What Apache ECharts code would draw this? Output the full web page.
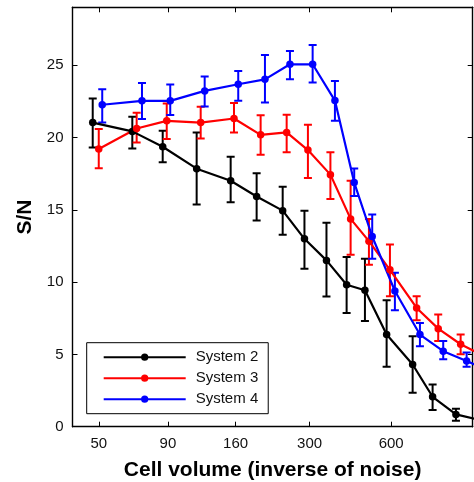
<!DOCTYPE html>
<html><head><meta charset="utf-8">
<script src="https://cdn.jsdelivr.net/npm/echarts@6/dist/echarts.min.js"></script>
<style>html,body{margin:0;padding:0;background:#fff}#c{width:474px;height:482px}</style>
</head><body><div id="c"></div>
<script>
// ---- data ----
const xTickLabels = [50, 90, 160, 300, 600];
const yTicks = [0, 5, 10, 15, 20, 25];
const seriesNames = ['System 2', 'System 3', 'System 4'];

const xSys2  = [47.5, 66.5, 86.1, 114.9, 153.4, 191.3, 238.7, 287.2, 346.3, 411.0, 480.2, 577.4, 720.3, 853.5, 1040.7, 1271];
const ySys2  = [21.03, 20.42, 19.36, 17.84, 17.01, 15.92, 14.94, 12.99, 11.50, 9.82, 9.43, 6.37, 4.30, 2.07, 0.85, 0.46];
const loSys2 = [19.31, 19.24, 18.28, 15.36, 15.52, 14.25, 13.27, 10.92, 9.00, 7.86, 7.31, 4.14, 2.35, 1.15, 0.42, null];
const hiSys2 = [22.69, 21.43, 20.46, 20.35, 18.67, 17.53, 16.60, 14.94, 14.10, 11.73, 11.61, 8.74, 6.26, 2.92, 1.24, null];

const xSys3  = [50.0, 69.0, 89.1, 118.9, 157.8, 197.9, 246.9, 295.8, 358.1, 425.2, 496.8, 593.9, 745.2, 895.2, 1083.1, 1315];
const ySys3  = [19.20, 20.62, 21.15, 21.03, 21.31, 20.18, 20.35, 19.13, 17.43, 14.37, 12.83, 10.85, 8.21, 6.78, 5.70, 4.90];
const loSys3 = [17.87, 19.66, 19.89, 19.93, 20.35, 18.81, 18.97, 17.20, 15.75, 11.89, 11.20, 9.02, 7.36, 5.93, 5.01, null];
const hiSys3 = [20.58, 21.70, 22.35, 22.12, 22.39, 21.54, 21.57, 20.88, 18.97, 17.01, 14.37, 12.60, 9.02, 7.75, 6.37, null];

const xSys4  = [51.5, 72.2, 91.8, 123.0, 163.6, 205.3, 253.9, 307.9, 372.1, 438.4, 510.9, 619.5, 766.3, 934.1, 1139.6, 1389];
const ySys4  = [22.26, 22.53, 22.53, 23.22, 23.68, 24.02, 25.06, 25.06, 22.55, 16.88, 13.15, 9.38, 6.37, 5.22, 4.55, 3.80];
const loSys4 = [21.03, 21.27, 21.56, 22.14, 22.53, 22.41, 24.02, 23.80, 21.15, 15.95, 11.61, 8.05, 5.57, 4.67, 4.14, null];
const hiSys4 = [23.34, 23.77, 23.66, 24.21, 24.60, 25.70, 25.98, 26.39, 23.91, 17.86, 14.67, 10.65, 7.17, 5.93, 5.13, null];

const xMin = 40, xMax = 1200, yMin = 0, yMax = 29;

// ---- chart ----
const L = Math.log10;
const FONT = 'Liberation Sans, Arial, Helvetica, sans-serif';
function pts(xs, ys) { return xs.map((x, i) => [L(x), ys[i]]); }
function errs(xs, lo, hi) { return xs.map((x, i) => [L(x), lo[i] == null ? NaN : lo[i], hi[i] == null ? NaN : hi[i]]); }

function errSeries(id, color, xs, lo, hi) {
  return {
    type: 'custom', name: id, silent: true, clip: true, animation: false,
    data: errs(xs, lo, hi),
    encode: { x: 0, y: [1, 2] },
    renderItem: function (params, api) {
      const l = api.value(1), h = api.value(2);
      if (l == null || h == null || isNaN(l) || isNaN(h)) return null;
      const a = api.coord([api.value(0), l]);
      const b = api.coord([api.value(0), h]);
      const w = 4;
      const st = { stroke: color, lineWidth: 2 };
      return {
        type: 'group', children: [
          { type: 'line', shape: { x1: a[0], y1: a[1], x2: b[0], y2: b[1] }, style: st },
          { type: 'line', shape: { x1: a[0] - w, y1: a[1], x2: a[0] + w, y2: a[1] }, style: st },
          { type: 'line', shape: { x1: b[0] - w, y1: b[1], x2: b[0] + w, y2: b[1] }, style: st }
        ]
      };
    }
  };
}
function lineSeries(name, color, xs, ys) {
  return {
    type: 'line', name: name, data: pts(xs, ys), symbol: 'circle', symbolSize: 7.5,
    showAllSymbol: true, clip: true, animation: false, silent: true,
    lineStyle: { color: color, width: 2.2 }, itemStyle: { color: color },
    emphasis: { disabled: true }
  };
}

const xTickVals = xTickLabels.map(L);
const axisLineStyle = { lineStyle: { color: '#000', width: 1.4 } };
const chart = echarts.init(document.getElementById('c'), null, { renderer: 'canvas' });
chart.setOption({
  animation: false,
  backgroundColor: '#fff',
  grid: { left: 72.5, right: 1.3, top: 7.3, bottom: 55.3, containLabel: false, outerBoundsMode: 'none' },
  legend: {
    data: seriesNames, orient: 'vertical', left: 86.7, top: 342.7,
    padding: [7, 10, 7, 16], itemGap: 6, itemWidth: 82, itemHeight: 9,
    borderColor: '#000', borderWidth: 1, backgroundColor: '#fff', borderRadius: 0,
    textStyle: { fontSize: 15, color: '#111', fontFamily: FONT, padding: [0, 0, 0, 5] },
    selectedMode: false
  },
  xAxis: [{
    type: 'value', position: 'bottom', min: L(xMin), max: L(xMax),
    name: 'Cell volume (inverse of noise)', nameLocation: 'middle', nameGap: 33,
    nameTextStyle: { fontSize: 21, fontWeight: 'bold', color: '#000', fontFamily: FONT },
    axisLine: Object.assign({ onZero: false }, axisLineStyle),
    axisTick: { inside: true, length: 5, customValues: xTickVals, lineStyle: { color: '#000', width: 1 } },
    axisLabel: { customValues: xTickVals, formatter: v => String(Math.round(Math.pow(10, v))), fontSize: 15, color: '#111', margin: 10, fontFamily: FONT },
    splitLine: { show: false }
  }, {
    type: 'value', position: 'top', min: L(xMin), max: L(xMax),
    axisLine: Object.assign({ onZero: false }, axisLineStyle),
    axisTick: { inside: true, length: 5, customValues: xTickVals, lineStyle: { color: '#000', width: 1 } },
    axisLabel: { show: false }, splitLine: { show: false }
  }],
  yAxis: [{
    type: 'value', position: 'left', min: yMin, max: yMax,
    name: 'S/N', nameLocation: 'middle', nameGap: 37,
    nameTextStyle: { fontSize: 21, fontWeight: 'bold', color: '#000', fontFamily: FONT },
    axisLine: Object.assign({ show: true, onZero: false }, axisLineStyle),
    axisTick: { show: true, inside: true, length: 5, customValues: yTicks, lineStyle: { color: '#000', width: 1 } },
    axisLabel: { customValues: yTicks, fontSize: 15, color: '#111', margin: 9, fontFamily: FONT },
    splitLine: { show: false }
  }, {
    type: 'value', position: 'right', min: yMin, max: yMax,
    axisLine: Object.assign({ show: true, onZero: false }, axisLineStyle),
    axisTick: { show: true, inside: true, length: 5, customValues: yTicks, lineStyle: { color: '#000', width: 1 } },
    axisLabel: { show: false }, splitLine: { show: false }
  }],
  series: [
    errSeries('err2', '#000000', xSys2, loSys2, hiSys2),
    lineSeries(seriesNames[0], '#000000', xSys2, ySys2),
    errSeries('err3', '#ff0000', xSys3, loSys3, hiSys3),
    lineSeries(seriesNames[1], '#ff0000', xSys3, ySys3),
    errSeries('err4', '#0000ff', xSys4, loSys4, hiSys4),
    lineSeries(seriesNames[2], '#0000ff', xSys4, ySys4)
  ]
});
</script>
</body></html>
